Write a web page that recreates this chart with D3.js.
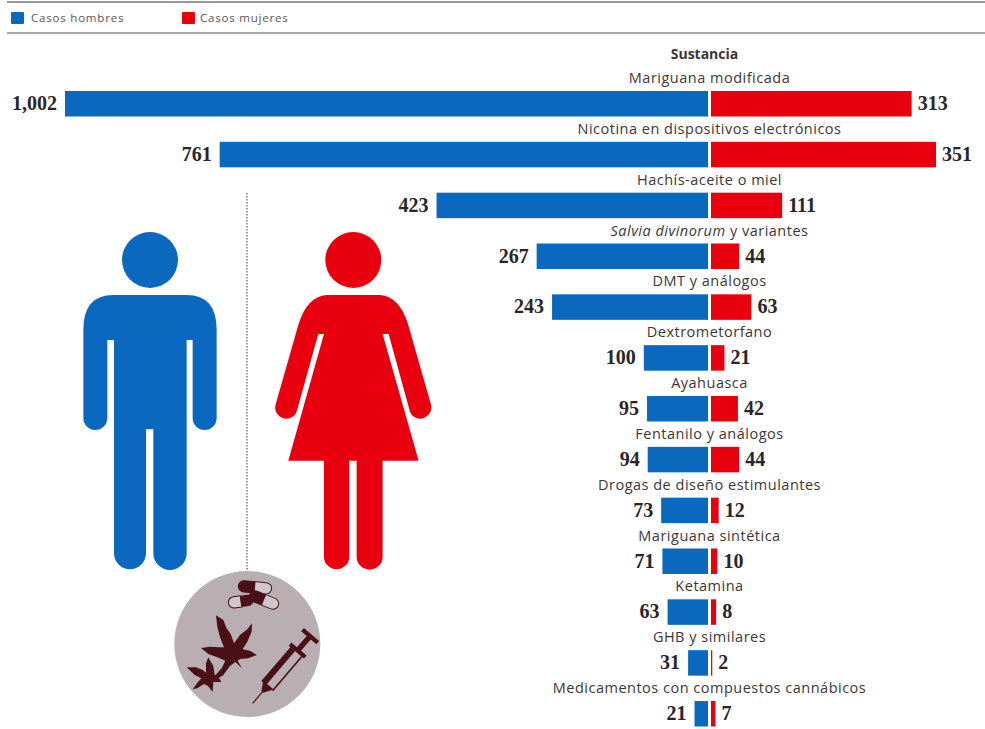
<!DOCTYPE html>
<html><head><meta charset="utf-8">
<script src="https://cdn.jsdelivr.net/npm/d3@7"></script>
<style>html,body{margin:0;padding:0;background:#fff}svg{display:block}
.lab{font-family:"Open Sans",sans-serif;font-size:14.5px;fill:#3c3638;text-anchor:middle;letter-spacing:.5px}
.val{font-family:"Liberation Serif",serif;font-weight:700;font-size:20px;fill:#2b2527}
.leg{font-family:"Open Sans",sans-serif;font-size:11.5px;fill:#5a5557;letter-spacing:.8px}
</style></head><body>
<svg id="c" width="985" height="729"></svg>
<script>
const categories=["Mariguana modificada","Nicotina en dispositivos electrónicos","Hachís-aceite o miel","Salvia divinorum y variantes","DMT y análogos","Dextrometorfano","Ayahuasca","Fentanilo y análogos","Drogas de diseño estimulantes","Mariguana sintética","Ketamina","GHB y similares","Medicamentos con compuestos cannábicos"];
const casosHombres=[1002,761,423,267,243,100,95,94,73,71,63,31,21];
const casosMujeres=[313,351,111,44,63,21,42,44,12,10,8,2,7];
const legendLabels=["Casos hombres","Casos mujeres"];
const blue="#0a69bf",red="#e8000f";
const svg=d3.select("#c");
const xM=d3.scaleLinear().domain([0,1002]).range([708,65]);
const xF=d3.scaleLinear().domain([0,351]).range([711,936]);
const y=d3.scalePoint().domain(categories).range([91,701]);
const barH=25.5;

// rules and legend
svg.append("line").attr("x1",7).attr("x2",985).attr("y1",2).attr("y2",2).attr("stroke","#777").attr("stroke-width",1.6);
svg.append("line").attr("x1",7).attr("x2",985).attr("y1",33).attr("y2",33).attr("stroke","#555").attr("stroke-width",1.2);
[[11,31,blue],[182,200,red]].forEach((d,i)=>{
  svg.append("rect").attr("x",d[0]).attr("y",12).attr("width",13).attr("height",12).attr("rx",1).attr("fill",d[2]);
  svg.append("text").attr("class","leg").attr("x",d[1]).attr("y",22).text(legendLabels[i]);
});
svg.append("text").attr("class","lab").attr("x",704.5).attr("y",59).style("font-weight",700).style("font-size","14px").style("letter-spacing","0").text("Sustancia");

// bars
categories.forEach((c,i)=>{
  const t=y(c);
  svg.append("rect").attr("x",xM(casosHombres[i])).attr("y",t).attr("width",xM(0)-xM(casosHombres[i])).attr("height",barH).attr("fill",blue);
  svg.append("rect").attr("x",xF(0)).attr("y",t).attr("width",xF(casosMujeres[i])-xF(0)).attr("height",barH).attr("fill",red);
  svg.append("text").attr("class","val").attr("x",xM(casosHombres[i])-8).attr("y",t+19).attr("text-anchor","end").text(d3.format(",")(casosHombres[i]));
  svg.append("text").attr("class","val").attr("x",xF(casosMujeres[i])+6).attr("y",t+19).text(casosMujeres[i]);
  const lab=svg.append("text").attr("class","lab").attr("x",709.5).attr("y",t-8);
  if(c.startsWith("Salvia divinorum")){
    lab.append("tspan").style("font-style","italic").text("Salvia divinorum");
    lab.append("tspan").text(" y variantes");
  } else lab.text(c);
});

// figures
svg.append("line").attr("x1",247).attr("x2",247).attr("y1",193).attr("y2",573).attr("stroke","#555").attr("stroke-width",1.2).attr("stroke-dasharray","1.5 1.5");
const fig=svg.append("g").attr("transform","translate(60,190) scale(0.3333)");
fig.append("circle").attr("cx",270).attr("cy",210).attr("r",84).attr("fill",blue);
fig.append("path").attr("fill",blue).attr("d","M160,315 H380 Q470,315 470,420 V684 A36,36 0 0 1 398,684 V450 H380 V1090 A50,50 0 0 1 280,1090 V718 H258 V1090 A48,48 0 0 1 162,1090 V450 H142 V684 A36,36 0 0 1 70,684 V420 Q70,315 160,315 Z");
fig.append("circle").attr("cx",880).attr("cy",210).attr("r",84).attr("fill",red);
fig.append("path").attr("fill",red).attr("d","M800,315 H960 Q1020,320 1045,405 L1112,640 A33,33 0 0 1 1050,665 L986,432 H968 L1076,812 H968 V1100 A39,39 0 0 1 890,1100 V812 H868 V1100 A38,38 0 0 1 792,1100 V812 H685 L792,432 H775 L710,665 A33,33 0 0 1 648,640 L715,405 Q740,320 800,315 Z");

// drug badge
const ink="#4a1018";
const b=svg.append("g").attr("transform","translate(160,560) scale(0.3333)");
b.append("circle").attr("cx",262).attr("cy",252).attr("r",219).attr("fill","#b9afb2");
// capsules
function cap(cx,cy,len,th,a){
  const g=b.append("g").attr("transform",`translate(${cx},${cy}) rotate(${a})`);
  g.append("rect").attr("x",-len/2).attr("y",-th/2).attr("width",len).attr("height",th).attr("rx",th/2).attr("fill","#cfc8ca").attr("stroke",ink).attr("stroke-width",3);
  g.append("path").attr("fill",ink).attr("d",`M0,${-th/2} H${-len/2+th/2} A${th/2},${th/2} 0 0 0 ${-len/2+th/2},${th/2} H0 Z`);
}
cap(285,82,100,34,5);
b.append("g").attr("transform","translate(243,124) rotate(172)").call(g=>{
  g.append("rect").attr("x",-38).attr("y",-17).attr("width",76).attr("height",34).attr("rx",17).attr("fill",ink);
  g.append("path").attr("fill","#cfc8ca").attr("stroke",ink).attr("stroke-width",3).attr("d","M0,-17 H21 A17,17 0 0 1 21,17 H0 Z");
});
cap(312,120,92,34,22);
// leaves
b.append("path").attr("fill",ink).attr("d","M168,166 L190,180 L200,205 L212,222 L222,250 L240,225 L262,208 L276,190 L275,215 L262,245 L248,268 L270,272 L291,285 L265,295 L240,297 L233,302 L246,325 L226,306 L210,318 L190,345 L170,358 L162,350 L185,325 L196,302 L172,292 L145,282 L123,264 L150,260 L180,262 L192,262 L180,232 L172,200 Z");
b.append("path").attr("fill",ink).attr("d","M145,292 L160,318 L164,345 L176,352 L184,366 L160,366 L158,396 L144,378 L132,372 L112,385 L98,388 L112,368 L124,355 L104,345 L80,322 L108,322 L128,330 L138,338 L138,310 Z");
// syringe
const s=b.append("g").attr("transform","translate(278,430) rotate(40.5)");
s.append("line").attr("x1",0).attr("y1",0).attr("x2",0).attr("y2",-50).attr("stroke",ink).attr("stroke-width",3.5);
s.append("path").attr("fill",ink).attr("d","M-4,-45 L4,-45 L20,-72 H-20 Z");
s.append("rect").attr("x",-21).attr("y",-205).attr("width",42).attr("height",135).attr("fill","#b9afb2").attr("stroke",ink).attr("stroke-width",5);
s.append("rect").attr("x",-21).attr("y",-205).attr("width",16).attr("height",135).attr("fill",ink);
s.append("rect").attr("x",-30).attr("y",-214).attr("width",60).attr("height",12).attr("fill",ink);
s.append("rect").attr("x",-8).attr("y",-262).attr("width",16).attr("height",50).attr("fill",ink);
s.append("rect").attr("x",-30).attr("y",-272).attr("width",60).attr("height",13).attr("fill",ink);
</script></body></html>
